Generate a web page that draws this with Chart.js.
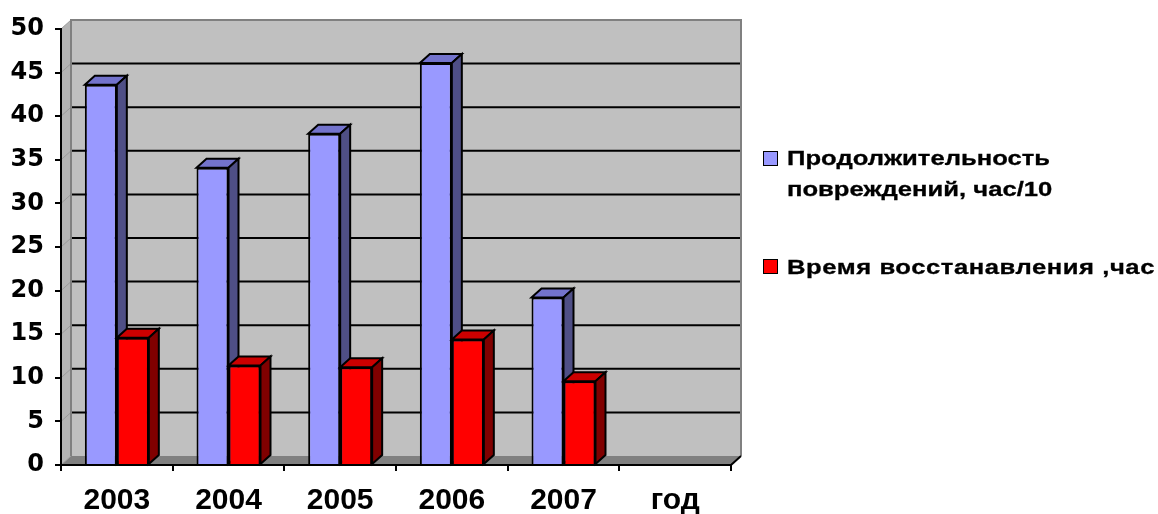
<!DOCTYPE html>
<html>
<head>
<meta charset="utf-8">
<script src="https://cdn.jsdelivr.net/npm/chart.js@4/dist/chart.umd.min.js"></script>
<style>
  html, body { margin: 0; padding: 0; background: #fff; }
  #wrap { position: relative; width: 1158px; height: 514px; }
  canvas { position: absolute; left: 0; top: 0; }
  .lg { position: absolute; font-family: "Liberation Sans", Arial, sans-serif; font-weight: bold; font-size: 21px; color: #000; line-height: 31px; white-space: nowrap; transform: scaleX(1.22); transform-origin: 0 0; -webkit-text-stroke: 0.3px #000; }
  .sw { position: absolute; width: 13px; height: 13px; border: 1px solid #000; box-sizing: content-box; }
</style>
</head>
<body>
<div id="wrap">
  <canvas id="c" width="1158" height="514"></canvas>
  <div class="sw" style="left:763px; top:151px; background:#9999FF;"></div>
  <div class="lg" id="lg1" style="left:787px; top:142px;"></div>
  <div class="sw" style="left:763px; top:259px; background:#FF0000;"></div>
  <div class="lg" id="lg2" style="left:787px; top:251px; letter-spacing:0.45px;"></div>
</div>
<script>
// ---- data ----
const categories = ['2003', '2004', '2005', '2006', '2007', 'год'];
const durationValues = [43.6, 34.1, 38.0, 46.1, 19.2, null];
const recoveryValues = [14.6, 11.4, 11.2, 14.4, 9.6, null];
const seriesNames = ['Продолжительность повреждений, час/10', 'Время восстанавления ,час'];
const legendLines = [['Продолжительность', 'повреждений, час/10'], ['Время восстанавления ,час']];
const yTickMin = 0, yTickMax = 50, yTickStep = 5;

document.getElementById('lg1').innerHTML = legendLines[0].join('<br>');
document.getElementById('lg2').innerHTML = legendLines[1].join('<br>');

const DX = 10, DY = -9;
const faceColors = [
  { top: '#7373CC', side: '#4F4F86' },
  { top: '#CC0000', side: '#800000' }
];

function poly(ctx, pts) {
  ctx.beginPath();
  ctx.moveTo(pts[0][0], pts[0][1]);
  for (let i = 1; i < pts.length; i++) ctx.lineTo(pts[i][0], pts[i][1]);
  ctx.closePath();
}

function drawFaces(chart, dsIndex, redrawFront) {
  const { ctx } = chart;
  const meta = chart.getDatasetMeta(dsIndex);
  const fc = faceColors[dsIndex];
  const data = chart.data.datasets[dsIndex].data;
  meta.data.forEach((el, i) => {
    const v = data[i];
    if (v === null || v === undefined) return;
    if (redrawFront) el.draw(ctx, chart.chartArea);
    const p = el.getProps(['x', 'y', 'base', 'width'], true);
    const x0 = p.x - p.width / 2, x1 = p.x + p.width / 2;
    const yt = p.y, yb = p.base;
    ctx.save();
    ctx.lineWidth = 2;
    ctx.strokeStyle = '#000';
    ctx.lineJoin = 'miter';
    poly(ctx, [[x0, yt], [x0 + DX, yt + DY], [x1 + DX, yt + DY], [x1, yt]]);
    ctx.fillStyle = fc.top; ctx.fill(); ctx.stroke();
    poly(ctx, [[x1, yt], [x1 + DX, yt + DY], [x1 + DX, yb + DY], [x1, yb]]);
    ctx.fillStyle = fc.side; ctx.fill(); ctx.stroke();
    ctx.restore();
  });
}

const wallsPlugin = {
  id: 'walls',
  beforeDraw(chart) {
    const { ctx, chartArea: a, scales: { y } } = chart;
    ctx.save();
    poly(ctx, [[a.left, a.top], [a.left + DX, a.top + DY], [a.left + DX, a.bottom + DY], [a.left, a.bottom]]);
    ctx.fillStyle = '#B4B4B4';
    ctx.fill();
    ctx.fillStyle = '#C0C0C0';
    ctx.fillRect(a.left + DX, a.top + DY, a.right - a.left, a.bottom - a.top);
    poly(ctx, [[a.left, a.bottom], [a.left + DX, a.bottom + DY], [a.right + DX, a.bottom + DY], [a.right, a.bottom]]);
    ctx.fillStyle = '#808080';
    ctx.fill();
    y.ticks.forEach(t => {
      const py = y.getPixelForValue(t.value);
      ctx.strokeStyle = '#9A9A9A';
      ctx.lineWidth = 1;
      ctx.beginPath();
      ctx.moveTo(a.left, py);
      ctx.lineTo(a.left + DX, py + DY);
      ctx.stroke();
      if (t.value > yTickMin && t.value < yTickMax) {
        ctx.strokeStyle = '#000';
        ctx.lineWidth = 2;
        ctx.beginPath();
        ctx.moveTo(a.left + DX, py + DY);
        ctx.lineTo(a.right + DX, py + DY);
        ctx.stroke();
      }
    });
    ctx.strokeStyle = '#808080';
    ctx.lineWidth = 2;
    ctx.beginPath();
    ctx.moveTo(a.left + DX, a.bottom + DY);
    ctx.lineTo(a.left + DX, a.top + DY);
    ctx.lineTo(a.right + DX, a.top + DY);
    ctx.lineTo(a.right + DX, a.bottom + DY);
    ctx.stroke();
    ctx.strokeStyle = '#000';
    ctx.lineWidth = 2;
    ctx.beginPath();
    ctx.moveTo(a.right, a.bottom);
    ctx.lineTo(a.right + DX, a.bottom + DY);
    ctx.stroke();
    ctx.restore();
  },
  afterDatasetsDraw(chart) {
    drawFaces(chart, 0, false);
    drawFaces(chart, 1, true);
  }
};

new Chart(document.getElementById('c'), {
  type: 'bar',
  data: {
    labels: categories,
    datasets: [
      { label: seriesNames[0], data: durationValues, backgroundColor: '#9999FF', borderColor: '#000', borderWidth: 2 },
      { label: seriesNames[1], data: recoveryValues, backgroundColor: '#FF0000', borderColor: '#000', borderWidth: 2 }
    ]
  },
  options: {
    responsive: false,
    devicePixelRatio: 1,
    animation: false,
    layout: { padding: { left: 0, right: 427, top: 29, bottom: 0 } },
    plugins: { legend: { display: false }, tooltip: { enabled: false } },
    datasets: { bar: { categoryPercentage: 0.573, barPercentage: 1.0 } },
    scales: {
      x: {
        afterFit(s) { s.height = 49; },
        grid: { display: true, drawOnChartArea: false, drawTicks: true, tickLength: 6, color: '#000', lineWidth: 2, offset: true },
        border: { display: true, color: '#000', width: 2 },
        ticks: { color: '#000', padding: 12, font: { family: '"Liberation Sans", Arial, sans-serif', weight: 'bold', size: 30 } }
      },
      y: {
        min: yTickMin, max: yTickMax,
        afterFit(s) { s.width = 61; },
        grid: { display: true, drawOnChartArea: false, drawTicks: true, tickLength: 6, color: '#000', lineWidth: 2 },
        border: { display: true, color: '#000', width: 2 },
        ticks: { stepSize: yTickStep, color: '#000', padding: 11, font: { family: '"DejaVu Sans", sans-serif', weight: 'bold', size: 24 } }
      }
    }
  },
  plugins: [wallsPlugin]
});
</script>
</body>
</html>
